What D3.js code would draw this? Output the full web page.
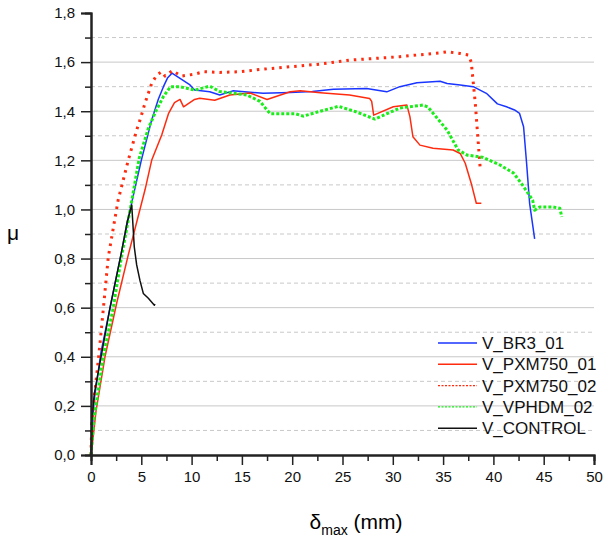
<!DOCTYPE html>
<html>
<head>
<meta charset="utf-8">
<script src="https://cdn.jsdelivr.net/npm/d3@7"></script>
<style>
  body { margin: 0; background: #fff; }
  text { font-family: "Liberation Sans", Arial, sans-serif; }
</style>
</head>
<body>
<div id="chart"></div>
<script>
// series values, [delta_max (mm), mu]
var br3_01 = [[0,0],[0.3,0.22],[1,0.42],[2,0.62],[3,0.82],[4,1.02],[5,1.2],[6,1.36],[6.7,1.45],[7.2,1.5],[7.6,1.535],[8.05,1.555],[8.85,1.534],[9.84,1.507],[10.3,1.486],[11.8,1.479],[12.8,1.466],[14.1,1.483],[17.1,1.473],[19.8,1.476],[22,1.48],[24.1,1.489],[27.4,1.493],[29.4,1.479],[30.7,1.5],[32.4,1.516],[34.7,1.522],[35.4,1.513],[36.7,1.507],[38,1.5],[39.3,1.473],[40.4,1.43],[41.3,1.418],[42.1,1.405],[42.6,1.391],[43.0,1.337],[43.3,1.188],[43.6,1.025],[44.1,0.88]];
var pxm750_01 = [[0,0],[0.07,0.02],[0.5,0.18],[1.39,0.4],[2.55,0.618],[3.7,0.814],[5.37,1.08],[6.03,1.2],[7.03,1.303],[7.7,1.39],[8.3,1.435],[8.85,1.448],[9.2,1.418],[10.3,1.448],[10.8,1.453],[12.3,1.445],[13.8,1.466],[15.8,1.474],[17.5,1.448],[19.8,1.479],[20.8,1.483],[22.8,1.475],[25.7,1.466],[27.7,1.452],[27.9,1.44],[28.1,1.384],[30.05,1.418],[31.4,1.425],[31.7,1.378],[32.0,1.296],[32.7,1.262],[34.0,1.249],[36.0,1.242],[36.7,1.228],[37.2,1.188],[37.8,1.106],[38.3,1.025],[38.8,1.025]];
var pxm750_02 = [[0,0],[0.07,0.13],[0.9,0.456],[1.72,0.807],[2.7,1.038],[3.7,1.2],[4.54,1.323],[4.87,1.364],[5.37,1.433],[6.03,1.513],[6.53,1.547],[7.03,1.561],[7.36,1.543],[8.08,1.565],[9.0,1.543],[10.3,1.551],[11.2,1.561],[12.8,1.558],[14.8,1.561],[16.8,1.57],[19.8,1.581],[22.8,1.592],[25.7,1.608],[30.7,1.622],[34.7,1.638],[35.4,1.642],[36.7,1.635],[37.5,1.629],[37.8,1.6],[38.2,1.432],[38.7,1.16]];
var vphdm_02 = [[0,0],[0.3,0.15],[1.22,0.4],[2.2,0.597],[3,0.8],[3.9,1.0],[4.8,1.21],[5.7,1.33],[6.5,1.405],[7.2,1.46],[7.9,1.5],[8.84,1.5],[10.3,1.486],[11.8,1.502],[12.8,1.48],[15.5,1.466],[16.8,1.44],[17.8,1.39],[20.3,1.39],[21.1,1.38],[22.8,1.4],[24.6,1.42],[26.4,1.397],[28.2,1.368],[30.7,1.413],[33.0,1.425],[33.5,1.417],[34.0,1.392],[35.4,1.323],[36.5,1.242],[37.4,1.221],[38.9,1.213],[40.7,1.18],[42.0,1.148],[42.9,1.099],[43.9,1.038],[44.1,0.997],[44.6,1.01],[45.9,1.01],[46.6,1.005],[46.8,0.97]];
var control = [[0,0],[0.07,0.14],[0.33,0.25],[1.0,0.4],[1.89,0.6],[3.0,0.82],[3.6,0.95],[4.05,1.018],[4.3,0.848],[4.54,0.774],[4.87,0.71],[5.2,0.658],[5.7,0.638],[6.3,0.61],[6.36,0.615]];

var seriesNames = ["V_BR3_01", "V_PXM750_01", "V_PXM750_02", "V_VPHDM_02", "V_CONTROL"];
var xTicks = [0, 5, 10, 15, 20, 25, 30, 35, 40, 45, 50];
var yTicks = [0, 0.2, 0.4, 0.6, 0.8, 1.0, 1.2, 1.4, 1.6, 1.8];

var series = [
  { name: seriesNames[0], values: br3_01, color: "#1a35ff", width: 1.5, dash: null },
  { name: seriesNames[1], values: pxm750_01, color: "#ff2b0f", width: 1.5, dash: null },
  { name: seriesNames[2], values: pxm750_02, color: "#ff2b0f", width: 3, dash: "2.5,5" },
  { name: seriesNames[3], values: vphdm_02, color: "#19ee19", width: 3, dash: "3,2" },
  { name: seriesNames[4], values: control, color: "#111", width: 1.5, dash: null }
];

var W = 604, H = 538;
var margin = { top: 13, right: 10, bottom: 83, left: 91 };
var width = W - margin.left - margin.right,
    height = H - margin.top - margin.bottom;

var svg = d3.select("#chart").append("svg")
  .attr("width", W).attr("height", H);
var g = svg.append("g")
  .attr("transform", "translate(" + margin.left + "," + margin.top + ")");

var x = d3.scaleLinear().domain([0, 50]).range([0, width]);
var y = d3.scaleLinear().domain([0, 1.8]).range([height, 0]);

// grid: solid at majors, dashed at minors
var minors = d3.range(0.1, 1.8, 0.2);
g.selectAll(".gmaj").data(yTicks.filter(function (d) { return d > 0 && d < 1.8; }))
  .enter().append("line")
  .attr("x1", 0).attr("x2", width)
  .attr("y1", function (d) { return y(d); }).attr("y2", function (d) { return y(d); })
  .attr("stroke", "#c8c8c8").attr("stroke-width", 1);
g.selectAll(".gmin").data(minors)
  .enter().append("line")
  .attr("x1", 0).attr("x2", width)
  .attr("y1", function (d) { return y(d); }).attr("y2", function (d) { return y(d); })
  .attr("stroke", "#c8c8c8").attr("stroke-width", 1).attr("stroke-dasharray", "4,3");

// curves
var line = d3.line().x(function (d) { return x(d[0]); }).y(function (d) { return y(d[1]); });
series.forEach(function (s) {
  g.append("path")
    .datum(s.values)
    .attr("d", line)
    .attr("fill", "none")
    .attr("stroke", s.color)
    .attr("stroke-width", s.width)
    .attr("stroke-linejoin", "round")
    .attr("stroke-dasharray", s.dash);
});

// axes
var fmt = function (d) { return d3.format(".1f")(d).replace(".", ","); };
g.append("g")
  .call(d3.axisLeft(y).tickValues(yTicks).tickFormat(fmt).tickSize(10).tickPadding(6));
g.append("g")
  .call(d3.axisLeft(y).tickValues(minors).tickFormat("").tickSize(6));
g.append("g")
  .attr("transform", "translate(0," + height + ")")
  .call(d3.axisBottom(x).tickValues(xTicks).tickSize(10).tickPadding(6));
g.append("g")
  .attr("transform", "translate(0," + height + ")")
  .call(d3.axisBottom(x).tickValues(d3.range(2.5, 50, 5)).tickFormat("").tickSize(6));

g.selectAll(".domain").attr("stroke", "#222").attr("stroke-width", 2);
g.selectAll(".tick line").attr("stroke", "#222").attr("stroke-width", 1.5);
g.selectAll(".tick text").style("font-size", "15px").attr("fill", "#111")
  .style("font-family", "'Liberation Sans', Arial, sans-serif");

// axis titles
svg.append("text")
  .attr("x", 13).attr("y", 240)
  .attr("text-anchor", "middle")
  .style("font-size", "21px")
  .text("μ");

var xt = svg.append("text")
  .attr("x", 356).attr("y", 529)
  .attr("text-anchor", "middle")
  .style("font-size", "21px");
xt.append("tspan").text("δ");
xt.append("tspan").attr("dy", 6).style("font-size", "14px").text("max");
xt.append("tspan").attr("dy", -6).text(" (mm)");

// legend
var legend = svg.append("g").attr("transform", "translate(438,343)");
series.forEach(function (s, i) {
  var row = legend.append("g").attr("transform", "translate(0," + (i * 21.3) + ")");
  row.append("line")
    .attr("x1", 0).attr("x2", 39)
    .attr("stroke", s.color)
    .attr("stroke-width", s.dash ? 1.2 : 1.5)
    .attr("stroke-dasharray", s.dash ? "2,1.5" : null);
  row.append("text")
    .attr("x", 44).attr("y", 6)
    .style("font-size", "17px")
    .attr("fill", "#111")
    .text(s.name);
});
</script>
</body>
</html>
